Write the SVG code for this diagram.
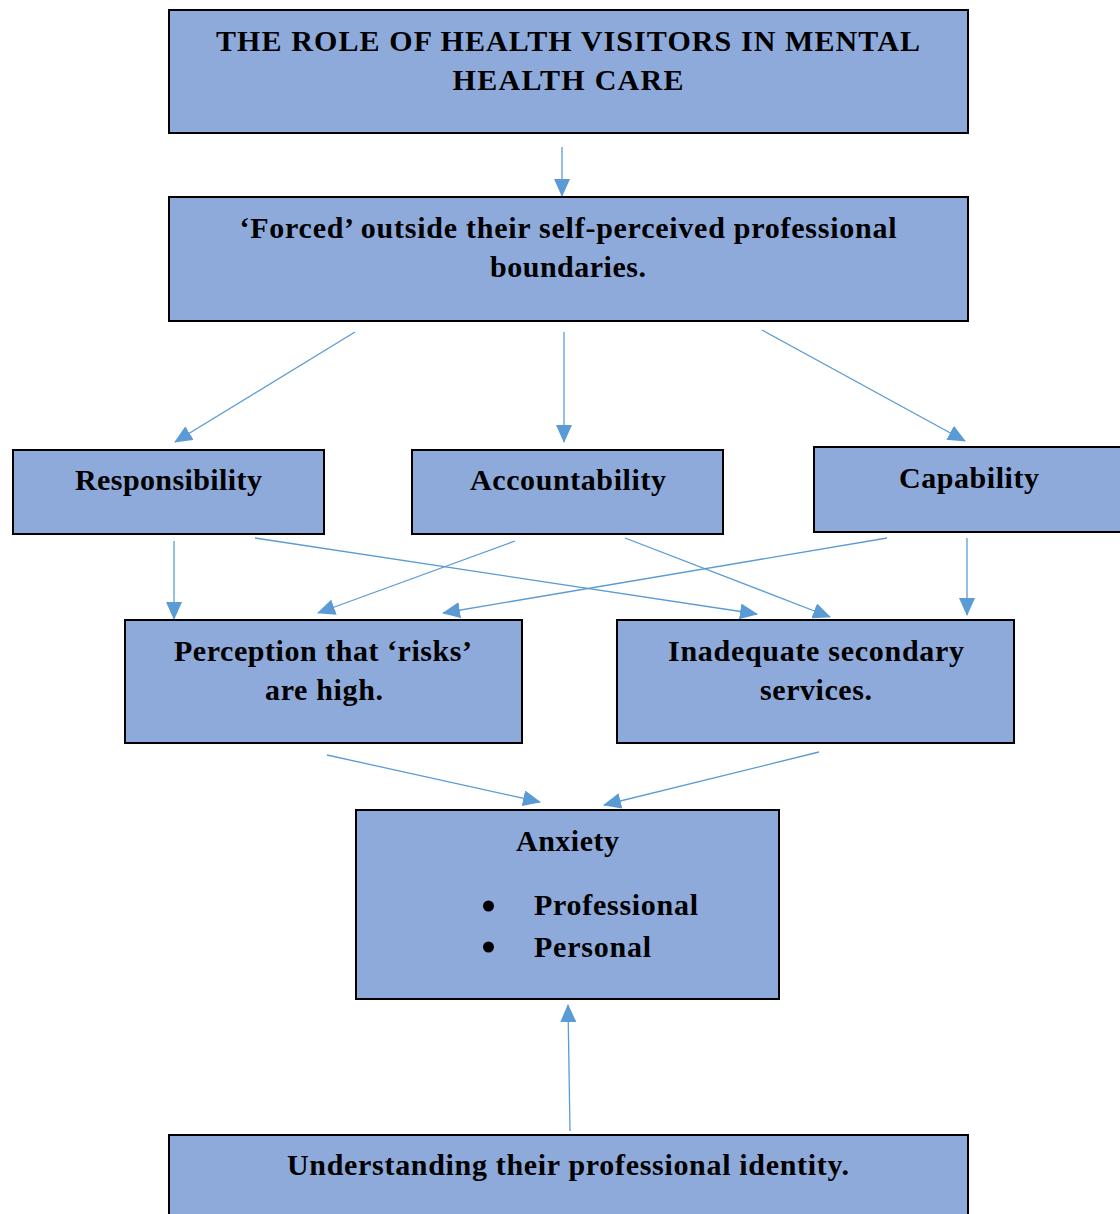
<svg xmlns="http://www.w3.org/2000/svg" width="1120" height="1214" viewBox="0 0 1120 1214">
<defs>
<style>
.box{fill:#8eaadb;stroke:#000;stroke-width:2}
.t{font-family:"Liberation Serif","Times New Roman",serif;font-weight:bold;font-size:30px;fill:#000;text-anchor:middle}
.tl{font-family:"Liberation Serif","Times New Roman",serif;font-weight:bold;font-size:30px;fill:#000}
.c{stroke:#5b9bd5;stroke-width:1.3;fill:none;marker-end:url(#ah)}
</style>
<marker id="ah" markerUnits="userSpaceOnUse" markerWidth="18" markerHeight="16" refX="17" refY="8" orient="auto">
<path d="M0,0 L18,8 L0,16 Z" fill="#5b9bd5"/>
</marker>
</defs>
<g id="connectors">
<line class="c" x1="562" y1="147" x2="562" y2="196"/>
<line class="c" x1="355" y1="332" x2="175" y2="442"/>
<line class="c" x1="564" y1="332" x2="564" y2="442"/>
<line class="c" x1="762" y1="330" x2="965" y2="441"/>
<line class="c" x1="174" y1="541" x2="174" y2="619"/>
<line class="c" x1="255" y1="538" x2="757" y2="614"/>
<line class="c" x1="515" y1="541" x2="318" y2="613"/>
<line class="c" x1="625" y1="538" x2="830" y2="617"/>
<line class="c" x1="887" y1="538" x2="443" y2="613"/>
<line class="c" x1="967" y1="538" x2="967" y2="615"/>
<line class="c" x1="327" y1="755" x2="540" y2="802"/>
<line class="c" x1="819" y1="752" x2="604" y2="805"/>
<line class="c" x1="570" y1="1131" x2="568" y2="1005"/>
</g>
<g id="n-title">
<rect class="box" x="169" y="10" width="799" height="123"/>
<text class="t" x="568" y="51" textLength="704" lengthAdjust="spacing">THE ROLE OF HEALTH VISITORS IN MENTAL</text>
<text class="t" x="568" y="90" textLength="231" lengthAdjust="spacing">HEALTH CARE</text>
</g>
<g id="n-forced">
<rect class="box" x="169" y="197" width="799" height="124"/>
<text class="t" x="568" y="238" textLength="657" lengthAdjust="spacing">‘Forced’ outside their self-perceived professional</text>
<text class="t" x="568" y="277" textLength="156" lengthAdjust="spacing">boundaries.</text>
</g>
<g id="n-responsibility">
<rect class="box" x="13" y="450" width="311" height="84"/>
<text class="t" x="168.5" y="490" textLength="187" lengthAdjust="spacing">Responsibility</text>
</g>
<g id="n-accountability">
<rect class="box" x="412" y="450" width="311" height="84"/>
<text class="t" x="568" y="490" textLength="196" lengthAdjust="spacing">Accountability</text>
</g>
<g id="n-capability">
<rect class="box" x="814" y="447" width="320" height="85"/>
<text class="t" x="969" y="488" textLength="140" lengthAdjust="spacing">Capability</text>
</g>
<g id="n-perception">
<rect class="box" x="125" y="620" width="397" height="123"/>
<text class="t" x="323" y="661" textLength="298" lengthAdjust="spacing">Perception that ‘risks’</text>
<text class="t" x="324" y="700" textLength="118" lengthAdjust="spacing">are high.</text>
</g>
<g id="n-inadequate">
<rect class="box" x="617" y="620" width="397" height="123"/>
<text class="t" x="816" y="661" textLength="296" lengthAdjust="spacing">Inadequate secondary</text>
<text class="t" x="816" y="700" textLength="112" lengthAdjust="spacing">services.</text>
</g>
<g id="n-anxiety">
<rect class="box" x="356" y="810" width="423" height="189"/>
<text class="t" x="567.5" y="851" textLength="103" lengthAdjust="spacing">Anxiety</text>
<circle cx="488.5" cy="906" r="5.5" fill="#000"/>
<circle cx="488.5" cy="947" r="5.5" fill="#000"/>
<text class="tl" x="534" y="915" textLength="164" lengthAdjust="spacing">Professional</text>
<text class="tl" x="534" y="957" textLength="117" lengthAdjust="spacing">Personal</text>
</g>
<g id="n-understanding">
<rect class="box" x="169" y="1135" width="799" height="100"/>
<text class="t" x="568" y="1175" textLength="562" lengthAdjust="spacing">Understanding their professional identity.</text>
</g>
</svg>
